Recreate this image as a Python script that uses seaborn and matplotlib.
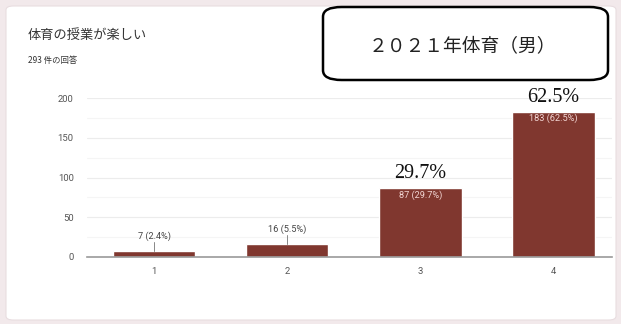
import matplotlib
matplotlib.use("Agg")
import matplotlib.pyplot as plt
from matplotlib.patches import FancyBboxPatch
from matplotlib.ticker import MultipleLocator
import seaborn as sns
import pandas as pd

# Survey data
categories = ["1", "2", "3", "4"]
counts = [7, 16, 87, 183]
total_responses = 293
title = "体育の授業が楽しい"
subtitle = f"{total_responses} 件の回答"
badge = "２０２１年体育（男）"
y_ticks = [0, 50, 100, 150, 200]

sns.set_theme(style="white")
plt.rcParams["font.family"] = ["Noto Sans CJK JP", "DejaVu Sans"]

df = pd.DataFrame({"answer": categories, "count": counts})
pcts = [c / total_responses * 100 for c in counts]

fig = plt.figure(figsize=(6.21, 3.24), dpi=100)
fig.patch.set_facecolor("#f2e9eb")

# white card behind everything
card = FancyBboxPatch((6 / 621, 4 / 324), 610 / 621, 314 / 324,
                      boxstyle="round,pad=0,rounding_size=0.012",
                      transform=fig.transFigure, facecolor="white",
                      edgecolor="#e8dde0", linewidth=0.8, zorder=-10)
fig.patches.append(card)

ax = fig.add_axes([87.5 / 621, 67 / 324, 524.5 / 621, 159 / 324])
ax.set_zorder(1)
ax.patch.set_alpha(0)
bar_color = "#80372f"
sns.barplot(data=df, x="answer", y="count", color=bar_color, width=0.62,
            saturation=1, ax=ax, zorder=3)

ax.set_ylim(0, 200)
ax.set_xlim(-0.5, 3.44)
ax.yaxis.set_major_locator(MultipleLocator(50))
ax.yaxis.set_minor_locator(MultipleLocator(25))
ax.set_yticks(y_ticks)
ax.grid(axis="y", which="major", color="#ececec", linewidth=0.8, zorder=0)
ax.grid(axis="y", which="minor", color="#f5f5f5", linewidth=0.8, zorder=0)
ax.set_axisbelow(True)
for s in ["top", "right", "left"]:
    ax.spines[s].set_visible(False)
ax.spines["bottom"].set_color("#9a9a9a")
ax.spines["bottom"].set_linewidth(1.2)
ax.spines["bottom"].set_zorder(4)
ax.tick_params(axis="both", which="both", length=0, labelsize=6.8, colors="#555555")
ax.tick_params(axis="y", pad=10)
ax.tick_params(axis="x", pad=7)
for lbl in ax.get_xticklabels() + ax.get_yticklabels():
    lbl.set_family(["Roboto"])
ax.set_xlabel("")
ax.set_ylabel("")

# value labels
for i, (c, p) in enumerate(zip(counts, pcts)):
    lab = f"{c} ({p:.1f}%)"
    if c < 40:
        ax.plot([i, i], [c, c + 12], color="#888888", linewidth=0.7, zorder=4)
        ax.text(i, c + 13, lab, ha="center", va="bottom", fontsize=6.6,
                color="#444444", family=["Roboto"])
    else:
        ax.text(i, c - 3, lab, ha="center", va="top", fontsize=6.6,
                color="#f3d6d4", family=["Roboto"], zorder=5)
        ax.text(i, c + 6, f"{p:.1f}%", ha="center", va="bottom",
                fontsize=14.5, color="#111111", family=["Liberation Serif"])

# headings
fig.text(28 / 621, 1 - 35 / 324, title, fontsize=9.5, color="#333333",
         va="center", ha="left")
fig.text(28 / 621, 1 - 60 / 324, subtitle, fontsize=6, color="#333333",
         va="center", ha="left")

# framed badge
box = FancyBboxPatch((323 / 621, 1 - 80 / 324), 285 / 621, 73 / 324,
                     boxstyle="round,pad=0,rounding_size=0.03",
                     transform=fig.transFigure, facecolor="white",
                     edgecolor="black", linewidth=1.8, zorder=6)
fig.patches.append(box)
fig.text(462 / 621, 1 - 46 / 324, badge, fontsize=13.5, color="#222222",
         va="center", ha="center", zorder=7)

fig.savefig("out.png", dpi=100, facecolor=fig.get_facecolor())
